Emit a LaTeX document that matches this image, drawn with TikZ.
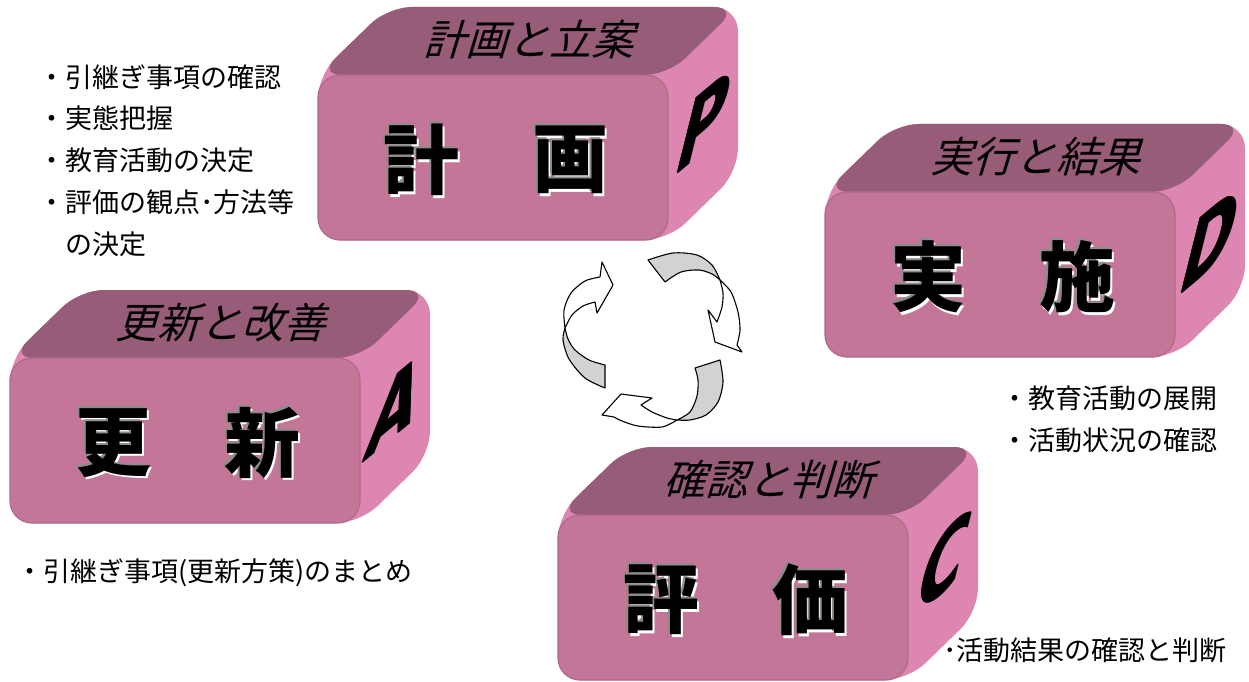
\documentclass[tikz,border=0pt]{standalone}
\usepackage{fontspec}
\setmainfont{Liberation Sans}
\newfontfamily\jp{Noto Sans CJK JP}
\newfontfamily\jpsl[FakeSlant=0.3]{Noto Sans CJK JP}
\newfontfamily\latb{DejaVu Sans}
\usetikzlibrary{calc}
\definecolor{frontc}{RGB}{196,118,152}
\definecolor{topc}{RGB}{150,92,120}
\definecolor{sidec}{RGB}{221,134,178}
\definecolor{shadowc}{RGB}{140,140,140}
\definecolor{ribbon}{RGB}{210,210,210}
\tikzset{
  sideface/.style={fill=sidec, rounded corners=24},
  topface/.style={fill=topc, rounded corners=24},
  frontface/.style={fill=frontc, draw=frontc!90!black, line width=1.2, rounded corners=22},
  toplabel/.style={font=\jpsl\fontsize{42}{42}\selectfont, inner sep=0},
  bigchar/.style={font=\jp\bfseries\fontsize{76}{76}\selectfont, inner sep=0},
  sideletter/.style={font=\latb\bfseries\fontsize{104}{104}\selectfont, inner sep=0, cm={0.6,0.5,0.25,1.0,(0,0)}},
  listtext/.style={font=\jp\fontsize{27}{27}\selectfont, inner sep=0, anchor=west},
  ribbonback/.style={fill=ribbon, draw=black, line width=1.1, line join=round},
  ribbonfront/.style={fill=white, draw=black, line width=1.1, line join=round},
}
\newcommand\bigch[4]{%
  \node[bigchar,text=white] (#1-w) at ({#2+2.5},{#3-2.5}) {#4};
  \node[bigchar,text=shadowc] (#1-g) at ({#2-2},{#3+2}) {#4};
  \node[bigchar] (#1) at (#2,#3) {#4};}
\newcommand\sidelet[4]{%
  \node[sideletter] (#1-a) at ({#2-0.6},#3) {#4};
  \node[sideletter] (#1-b) at ({#2+0.6},#3) {#4};
  \node[sideletter] (#1) at (#2,#3) {#4};}
\newcommand\pdcabox[7]{%
\begin{scope}[shift={(#2,-#3)}]
  \fill[sideface] (0,-165) -- (0,0) -- (70,68) -- (420,68) -- (420,-97) -- (350,-165) -- cycle;
  \fill[topface] (0,0) -- (70,68) -- (420,68) -- (350,0) -- cycle;
  \filldraw[frontface] (0,-165) rectangle (350,0);
  \node[toplabel] (#1-top) at (210,35) {#4};
  \bigch{#1-c1}{103}{-85}{#5}
  \bigch{#1-c2}{252}{-85}{#6}
  \sidelet{#1-l}{386}{-47}{#7}
\end{scope}}
\begin{document}
\begin{tikzpicture}[x=1pt,y=1pt]
\useasboundingbox (0,0) rectangle (1249,-682);
\fill[white] (0,0) rectangle (1249,-682);
\pdcabox{plan}{318}{75}{計画と立案}{計}{画}{P}
\pdcabox{do}{825}{192}{実行と結果}{実}{施}{D}
\pdcabox{act}{10}{358}{更新と改善}{更}{新}{A}
\pdcabox{check}{558}{515}{確認と判断}{評}{価}{C}
% cycle arrow 1 (left)
\draw[ribbonback] plot[smooth] coordinates {(605,-388) (585,-378) (569,-359) (563,-340) (565,-328)}
  -- plot[smooth] coordinates {(565,-328) (568,-339) (575,-350) (589,-360) (605,-365)} -- cycle;
\draw[ribbonfront] plot[smooth] coordinates {(565,-328) (564,-310) (571,-293) (585,-281) (600,-277)}
  -- (602,-262) -- (613,-285) -- (597,-313) -- (595,-302)
  -- plot[smooth] coordinates {(595,-302) (583,-306) (572,-315) (565,-328)} -- cycle;
% cycle arrow 2 (top right)
\draw[ribbonback] plot[smooth] coordinates {(648,-260) (673,-253) (697,-255) (712,-265) (720,-280)}
  -- plot[smooth] coordinates {(720,-280) (712,-274) (699,-270) (681,-272) (665,-282)} -- cycle;
\draw[ribbonfront] plot[smooth] coordinates {(720,-280) (731,-292) (738,-312) (740,-330) (737,-345)}
  -- (742,-352) -- (715,-342) -- (708,-310) -- (717,-322)
  -- plot[smooth] coordinates {(717,-322) (722,-307) (723,-293) (720,-280)} -- cycle;
% cycle arrow 3 (bottom)
\draw[ribbonback] plot[smooth] coordinates {(720,-360) (723,-382) (718,-402) (706,-415) (690,-420) (677,-420)}
  -- plot[smooth] coordinates {(677,-420) (690,-412) (697,-396) (698,-380) (695,-368)} -- cycle;
\draw[ribbonfront] plot[smooth] coordinates {(677,-420) (662,-427) (638,-426) (622,-421) (614,-417)}
  -- (602,-415) -- (621,-394) -- (652,-398) -- (641,-405)
  -- plot[smooth] coordinates {(641,-405) (652,-412) (667,-418) (677,-420)} -- cycle;
\node[listtext] (p1) at (38,-77) {・引継ぎ事項の確認};
\node[listtext] (p2) at (38,-118) {・実態把握};
\node[listtext] (p3) at (38,-160) {・教育活動の決定};
\node[listtext] (p4) at (38,-202) {・評価の観点･方法等};
\node[listtext] (p5) at (65,-244) {の決定};
\node[listtext] (d1) at (1001,-398) {・教育活動の展開};
\node[listtext] (d2) at (1001,-440) {・活動状況の確認};
\node[listtext] (a1) at (16,-573) {・引継ぎ事項(更新方策)のまとめ};
\node[listtext] (c1) at (943,-650) {･活動結果の確認と判断};
\end{tikzpicture}
\end{document}
